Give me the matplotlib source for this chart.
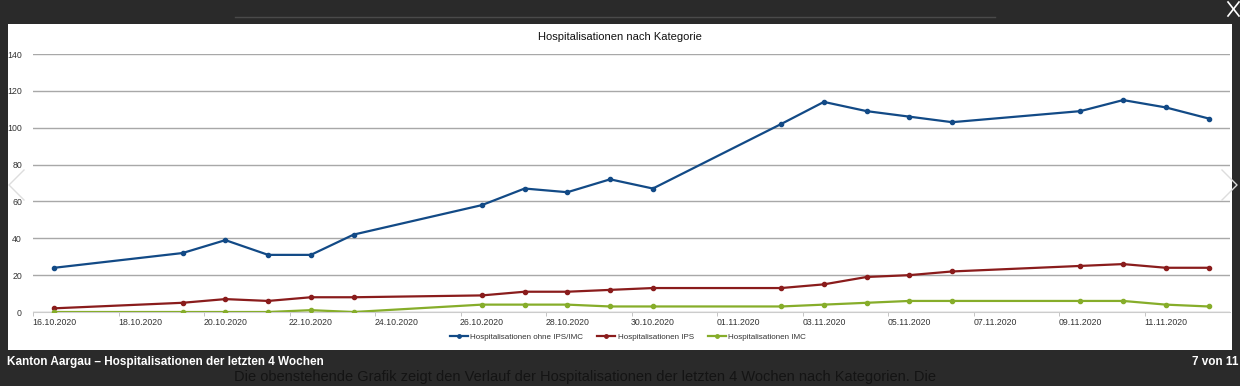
import matplotlib
matplotlib.use("Agg")
import matplotlib.pyplot as plt
from matplotlib.lines import Line2D
from matplotlib import font_manager
import datetime as dt

plt.rcParams['font.family'] = ['Liberation Sans', 'DejaVu Sans']

dates = ["16.10.2020", "19.10.2020", "20.10.2020", "21.10.2020", "22.10.2020", "23.10.2020",
         "26.10.2020", "27.10.2020", "28.10.2020", "29.10.2020", "30.10.2020",
         "02.11.2020", "03.11.2020", "04.11.2020", "05.11.2020", "06.11.2020",
         "09.11.2020", "10.11.2020", "11.11.2020", "12.11.2020"]
ohne_ips_imc = [24, 32, 39, 31, 31, 42, 58, 67, 65, 72, 67, 102, 114, 109, 106, 103, 109, 115, 111, 105]
ips = [2, 5, 7, 6, 8, 8, 9, 11, 11, 12, 13, 13, 15, 19, 20, 22, 25, 26, 24, 24]
imc = [0, 0, 0, 0, 1, 0, 4, 4, 4, 3, 3, 3, 4, 5, 6, 6, 6, 6, 4, 3]
series_names = ["Hospitalisationen ohne IPS/IMC", "Hospitalisationen IPS", "Hospitalisationen IMC"]
colors = ["#124a86", "#8a1c1c", "#86ad2a"]
yticks = [0, 20, 40, 60, 80, 100, 120, 140]

x = [dt.datetime.strptime(d, "%d.%m.%Y") for d in dates]

W, H = 1240, 386
fig = plt.figure(figsize=(W / 100, H / 100), dpi=100, facecolor="#2a2a2a")

def fx(px):
    return px / W

def fy(py):
    return 1 - py / H

# white panel as background axes
bg = fig.add_axes([fx(8), fy(350), fx(1232) - fx(8), fy(24) - fy(350)], zorder=0)
bg.set_facecolor("white")
bg.set_xticks([])
bg.set_yticks([])
for s in bg.spines.values():
    s.set_visible(False)

ax = fig.add_axes([fx(33), fy(312), fx(1230) - fx(33), fy(54) - fy(312)], zorder=1)
ax.patch.set_alpha(0)
for vals, c, n in zip([ohne_ips_imc, ips, imc], colors, series_names):
    ax.plot(x, vals, color=c, lw=1.6, marker="o", ms=3, mfc=c, mec=c, label=n, zorder=3)

start = x[0]
ax.set_xlim(start - dt.timedelta(days=0.47), x[-1] + dt.timedelta(days=0.5))
ax.set_ylim(0, 140)
ax.set_yticks(yticks)
ax.set_yticklabels([str(v) for v in yticks], fontsize=6.3, color="#333333")
ax.grid(axis="y", color="#a8a8a8", lw=1.0)
ax.set_axisbelow(True)
major = [start + dt.timedelta(days=2 * i) for i in range(14)]
ax.set_xticks(major)
ax.set_xticklabels([d.strftime("%d.%m.%Y") for d in major], fontsize=6.3, color="#333333")
ax.set_xticks([m - dt.timedelta(days=0.5) for m in major], minor=True)
ax.tick_params(axis="x", which="major", length=0, pad=4)
ax.tick_params(axis="x", which="minor", length=3, color="#bbbbbb")
ax.tick_params(axis="y", length=0, pad=8)
for s in ["top", "right", "left"]:
    ax.spines[s].set_visible(False)
ax.spines["bottom"].set_color("#cccccc")

fig.text(0.5, fy(37), "Hospitalisationen nach Kategorie", ha="center", va="center",
         fontsize=8, color="#111111", zorder=5)

handles = [Line2D([], [], color=c, lw=1.6, marker="o", ms=2.5) for c in colors]
leg = fig.legend(handles, series_names, loc="center", bbox_to_anchor=(fx(628), fy(337)), ncol=3,
                 frameon=False, fontsize=5.8, handlelength=2.2, handletextpad=0.3, columnspacing=1.8,
                 labelcolor="#333333")
leg.set_zorder(5)

# screenshot chrome
names = {f.name for f in font_manager.fontManager.ttflist}
cap_family = ["Liberation Sans Narrow"] if "Liberation Sans Narrow" in names else ["Liberation Sans"]
cap_family = cap_family + ["DejaVu Sans"]
fig.text(fx(7), fy(362), "Kanton Aargau \u2013 Hospitalisationen der letzten 4 Wochen",
         ha="left", va="center", fontsize=8.5, color="white", family=cap_family, weight="bold")
fig.text(fx(1238), fy(362), "7 von 11", ha="right", va="center", fontsize=8.5, color="white",
         family=cap_family, weight="bold")
fig.text(fx(234), fy(377),
         "Die obenstehende Grafik zeigt den Verlauf der Hospitalisationen der letzten 4 Wochen nach Kategorien. Die",
         ha="left", va="center", fontsize=10.5, color="#141414")

fig.add_artist(Line2D([fx(235), fx(995)], [fy(17), fy(17)], transform=fig.transFigure,
                      color="#4a4a4a", lw=1))
fig.add_artist(Line2D([fx(1228), fx(1239)], [fy(2), fy(16)], transform=fig.transFigure,
                      color="white", lw=1.2))
fig.add_artist(Line2D([fx(1228), fx(1239)], [fy(16), fy(2)], transform=fig.transFigure,
                      color="white", lw=1.2))
fig.add_artist(Line2D([fx(24), fx(9), fx(24)], [fy(170), fy(185), fy(200)], transform=fig.transFigure,
                      color="#dddddd", lw=1, zorder=6))
fig.add_artist(Line2D([fx(1222), fx(1237), fx(1222)], [fy(170), fy(185), fy(200)],
                      transform=fig.transFigure, color="#dddddd", lw=1, zorder=6))

fig.savefig("out.png", dpi=100, facecolor=fig.get_facecolor())
